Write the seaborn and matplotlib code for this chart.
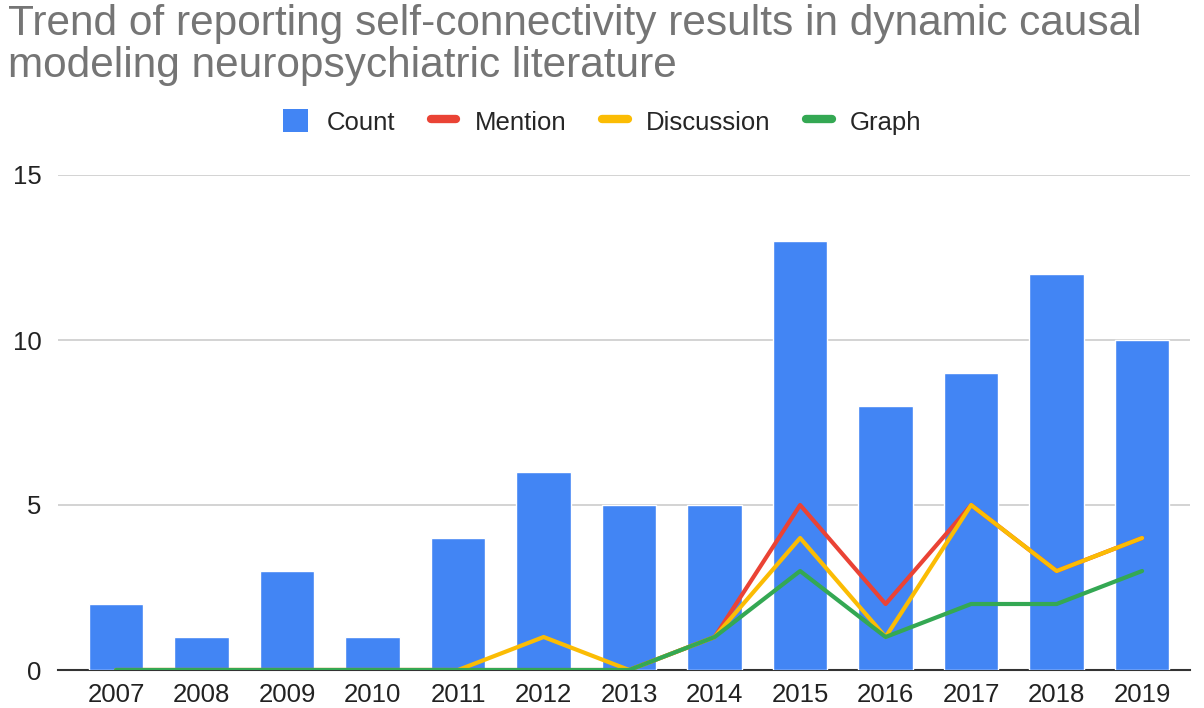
import numpy as np
import pandas as pd
import matplotlib
matplotlib.use("Agg")
import matplotlib.pyplot as plt
import seaborn as sns
from matplotlib.lines import Line2D
from matplotlib.patches import Patch

years = ["2007", "2008", "2009", "2010", "2011", "2012", "2013",
         "2014", "2015", "2016", "2017", "2018", "2019"]
count = [2, 1, 3, 1, 4, 6, 5, 5, 13, 8, 9, 12, 10]
mention = [0, 0, 0, 0, 0, 0, 0, 1, 5, 2, 5, 3, 4]
discussion = [0, 0, 0, 0, 0, 1, 0, 1, 4, 1, 5, 3, 4]
graph = [0, 0, 0, 0, 0, 0, 0, 1, 3, 1, 2, 2, 3]

colors = {"Count": "#4285F4", "Mention": "#EA4335",
          "Discussion": "#FBBC04", "Graph": "#34A853"}

sns.set_style("white")
plt.rcParams['font.family'] = ['Liberation Sans', 'DejaVu Sans']

df = pd.DataFrame({"year": years, "Count": count, "Mention": mention,
                   "Discussion": discussion, "Graph": graph})
df["pos"] = np.arange(len(years))

fig = plt.figure(figsize=(12.04, 7.08), dpi=100)
ax = fig.add_axes([58 / 1204, 38 / 708, 1132 / 1204, 495 / 708])

sns.barplot(data=df, x="year", y="Count", color=colors["Count"],
            width=0.64, saturation=1, ax=ax, zorder=2)
for name in ["Mention", "Discussion", "Graph"]:
    sns.lineplot(data=df, x="pos", y=name, color=colors[name],
                 linewidth=3, ax=ax, zorder=3)

ax.set_xlim(-0.68, 12.56)
ax.set_ylim(0, 15)
ax.set_yticks([0, 5, 10, 15])
ax.set_xticks(df["pos"])
ax.set_xticklabels(years)
ax.set_xlabel("")
ax.set_ylabel("")
ax.grid(axis="y", color="#cccccc", linewidth=1.2, zorder=0)
ax.set_axisbelow(True)
for s in ["top", "right", "left"]:
    ax.spines[s].set_visible(False)
ax.spines["bottom"].set_color("#333333")
ax.spines["bottom"].set_linewidth(1.5)
ax.spines["bottom"].set_zorder(1)
ax.tick_params(axis="both", length=0, labelsize=18.5, colors="#222222")
ax.tick_params(axis="y", pad=12)
ax.tick_params(axis="x", pad=9)

# title, two lines placed by baseline
fig.text(8 / 1204, 1 - 35 / 708,
         "Trend of reporting self-connectivity results in dynamic causal",
         ha="left", va="baseline", fontsize=30.5, color="#757575")
fig.text(8 / 1204, 1 - 77 / 708,
         "modeling neuropsychiatric literature",
         ha="left", va="baseline", fontsize=30.5, color="#757575")

handles = [Patch(facecolor=colors["Count"], edgecolor="none"),
           Line2D([], [], color=colors["Mention"], linewidth=6),
           Line2D([], [], color=colors["Discussion"], linewidth=6),
           Line2D([], [], color=colors["Graph"], linewidth=6)]
fig.legend(handles, ["Count", "Mention", "Discussion", "Graph"],
           loc="center", bbox_to_anchor=(0.5, 1 - 122 / 708), ncol=4,
           frameon=False, fontsize=18.5, handlelength=1.0, handleheight=1.0,
           handletextpad=0.7, columnspacing=1.4)

fig.savefig("out.png", dpi=100)
